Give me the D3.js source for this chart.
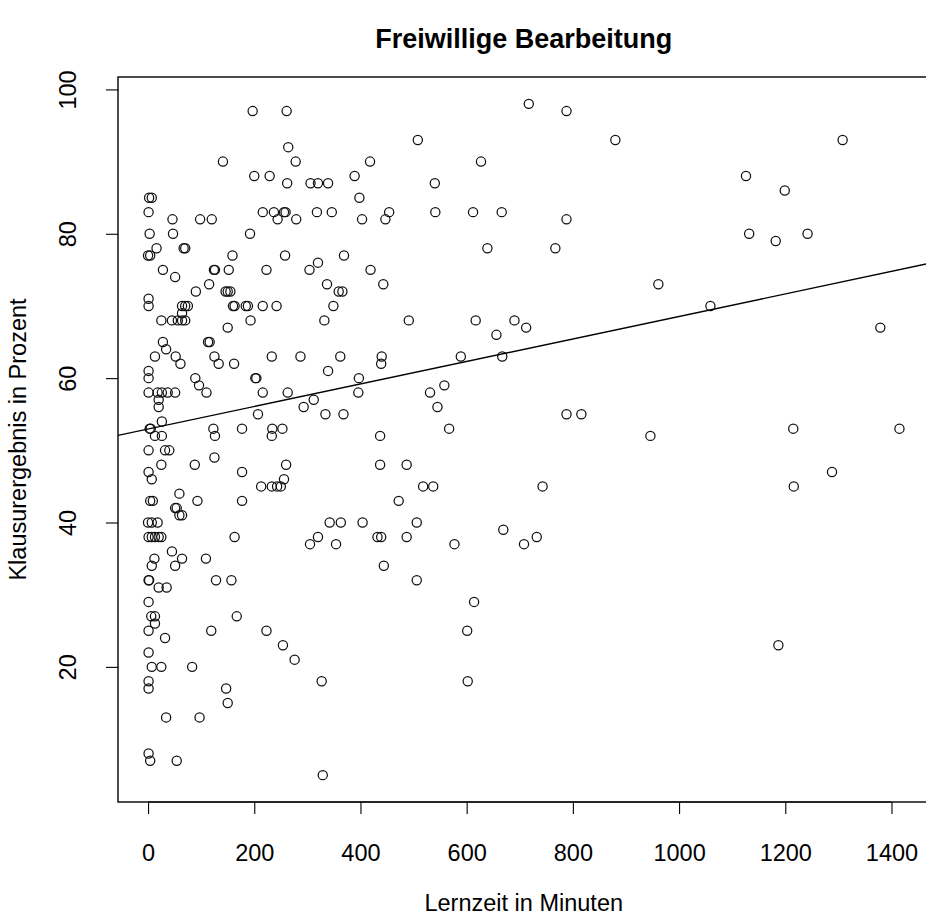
<!DOCTYPE html>
<html>
<head>
<meta charset="utf-8">
<script src="https://cdn.jsdelivr.net/npm/d3@7/dist/d3.min.js"></script>
<style>
body { margin: 0; background: #fff; }
svg text { font-family: "Liberation Sans", Arial, Helvetica, sans-serif; fill: #000; }
</style>
</head>
<body>
<svg id="chart"></svg>
<script>
// Lernzeit (Minuten) und Klausurergebnis (Prozent), paarweise
const minutes = [
  141, 2, 7, 1, 46, 98, 120, 3, 47, 16, 67, 70, 0, 4, 159,
  28, 51, 124, 126, 152, 115, 90, 146, 150, 155, 1, 1, 64, 70, 75, 160, 163, 64,
  25, 45, 56, 64, 70, 150, 28, 113, 116, 34, 13, 52, 61, 125, 133, 162, 1, 1,
  89, 96, 110, 1, 18, 26, 37, 51, 20, 20, 26, 3, 5, 13, 26, 123, 126,
  1, 32, 40, 25, 88, 125, 1, 7, 59, 4, 9, 93, 51, 54, 59, 64, 0, 7, 18,
  1, 7, 13, 20, 25, 163, 45, 64, 12, 7, 51, 109, 1, 2, 20, 35, 128, 157,
  1, 6, 13, 167, 13,
  1, 32, 119, 1, 7, 25, 83, 1, 1, 147, 150, 34, 97, 1, 4, 54,
  197, 261, 264, 278, 418, 508, 200, 229, 262, 306, 320, 339, 389, 540, 398,
  216, 237, 256, 259, 244, 279, 318, 346, 403, 454, 447, 541, 192, 258, 369,
  223, 304, 320, 419, 337, 359, 366, 443, 184, 188, 216, 242, 349, 193, 332, 491,
  233, 287, 362, 440, 439, 339, 202, 204, 397, 216, 263, 396, 312, 293, 531,
  558, 545, 207, 334, 368, 177, 234, 253, 233, 437, 567, 260, 437, 487, 177,
  256, 213, 233, 243, 250, 518, 537, 177, 472, 342, 363, 404, 506, 320, 305,
  354, 432, 439, 487, 577,
  444, 506, 223, 254, 276, 327, 329,
  717, 788, 880, 627, 612, 666, 788, 639, 767, 961, 617, 690, 712, 656, 589,
  667, 788, 816, 946,
  743, 669, 708, 732, 614, 601, 602,
  1308, 1126, 1199, 1132, 1182, 1242, 1059, 1379, 1215, 1415, 1288, 1216, 1187
];
const scores = [
  90, 85, 85, 83, 82, 82, 82, 80, 80, 78, 78, 78, 77, 77, 77,
  75, 74, 75, 75, 75, 73, 72, 72, 72, 72, 71, 70, 70, 70, 70, 70, 70, 69,
  68, 68, 68, 68, 68, 67, 65, 65, 65, 64, 63, 63, 62, 63, 62, 62, 61, 60,
  60, 59, 58, 58, 58, 58, 58, 58, 57, 56, 54, 53, 53, 52, 52, 53, 52,
  50, 50, 50, 48, 48, 49, 47, 46, 44, 43, 43, 43, 42, 42, 41, 41, 40, 40, 40,
  38, 38, 38, 38, 38, 38, 36, 35, 35, 34, 34, 35, 32, 32, 31, 31, 32, 32,
  29, 27, 27, 27, 26,
  25, 24, 25, 22, 20, 20, 20, 18, 17, 17, 15, 13, 13, 8, 7, 7,
  97, 97, 92, 90, 90, 93, 88, 88, 87, 87, 87, 87, 88, 87, 85,
  83, 83, 83, 83, 82, 82, 83, 83, 82, 83, 82, 83, 80, 77, 77,
  75, 75, 76, 75, 73, 72, 72, 73, 70, 70, 70, 70, 70, 68, 68, 68,
  63, 63, 63, 63, 62, 61, 60, 60, 60, 58, 58, 58, 57, 56, 58,
  59, 56, 55, 55, 55, 53, 53, 53, 52, 52, 53, 48, 48, 48, 47,
  46, 45, 45, 45, 45, 45, 45, 43, 43, 40, 40, 40, 40, 38, 37,
  37, 38, 38, 38, 37,
  34, 32, 25, 23, 21, 18, 5,
  98, 97, 93, 90, 83, 83, 82, 78, 78, 73, 68, 68, 67, 66, 63,
  63, 55, 55, 52,
  45, 39, 37, 38, 29, 25, 18,
  93, 88, 86, 80, 79, 80, 70, 67, 53, 53, 47, 45, 23
];
const xTicks = [0, 200, 400, 600, 800, 1000, 1200, 1400];
const yTicks = [20, 40, 60, 80, 100];
// abline(lm(...)): Achsenabschnitt und Steigung
const lmCoef = [52.95, 0.0156];

const width = 926, height = 917;
const plot = { left: 118, right: 929.5, top: 77, bottom: 802 };

const svg = d3.select("#chart")
  .attr("width", width)
  .attr("height", height);

svg.append("rect").attr("width", width).attr("height", height).attr("fill", "#fff");

// R-Stil: Wertebereich um 4% erweitern
function pad(ext) {
  const d = (ext[1] - ext[0]) * 0.04;
  return [ext[0] - d, ext[1] + d];
}

const xScale = d3.scaleLinear()
  .domain(pad(d3.extent(minutes)))
  .range([plot.left, plot.right]);

const yScale = d3.scaleLinear()
  .domain(pad(d3.extent(scores)))
  .range([plot.bottom, plot.top]);

svg.append("defs").append("clipPath")
  .attr("id", "plot-clip")
  .append("rect")
  .attr("x", plot.left)
  .attr("y", plot.top)
  .attr("width", plot.right - plot.left)
  .attr("height", plot.bottom - plot.top);

// Punkte
const data = minutes.map((m, i) => ({ m: m, s: scores[i] }));

svg.append("g")
  .attr("class", "points")
  .selectAll("circle")
  .data(data)
  .enter().append("circle")
  .attr("cx", d => xScale(d.m))
  .attr("cy", d => yScale(d.s))
  .attr("r", 4.6)
  .attr("fill", "none")
  .attr("stroke", "#111")
  .attr("stroke-width", 1.25);

// Regressionsgerade
const xDom = xScale.domain();
svg.append("line")
  .attr("clip-path", "url(#plot-clip)")
  .attr("x1", xScale(xDom[0]))
  .attr("y1", yScale(lmCoef[0] + lmCoef[1] * xDom[0]))
  .attr("x2", xScale(xDom[1]))
  .attr("y2", yScale(lmCoef[0] + lmCoef[1] * xDom[1]))
  .attr("stroke", "#000")
  .attr("stroke-width", 1.4);

// Rahmen
svg.append("rect")
  .attr("x", plot.left)
  .attr("y", plot.top)
  .attr("width", plot.right - plot.left)
  .attr("height", plot.bottom - plot.top)
  .attr("fill", "none")
  .attr("stroke", "#000")
  .attr("stroke-width", 1.4);

// x-Achse
const xAxis = svg.append("g")
  .attr("class", "axis x-axis")
  .attr("transform", `translate(0,${plot.bottom})`)
  .call(d3.axisBottom(xScale).tickValues(xTicks).tickFormat(d3.format("d")).tickSize(12).tickSizeOuter(0));
xAxis.select(".domain").remove();
xAxis.selectAll(".tick line").attr("stroke", "#000").attr("stroke-width", 1.1);
xAxis.selectAll(".tick text")
  .attr("y", 59)
  .attr("dy", null)
  .style("font-size", "23.5px");
xAxis.append("line")
  .attr("x1", xScale(xTicks[0])).attr("x2", xScale(xTicks[xTicks.length - 1]))
  .attr("stroke", "#000").attr("stroke-width", 1.1);

// y-Achse
const yAxis = svg.append("g")
  .attr("class", "axis y-axis")
  .attr("transform", `translate(${plot.left},0)`)
  .call(d3.axisLeft(yScale).tickValues(yTicks).tickFormat(d3.format("d")).tickSize(12).tickSizeOuter(0));
yAxis.select(".domain").remove();
yAxis.selectAll(".tick line").attr("stroke", "#000").attr("stroke-width", 1.1);
yAxis.selectAll(".tick text")
  .attr("x", null)
  .attr("dy", null)
  .attr("transform", "translate(-42,0) rotate(-90)")
  .attr("text-anchor", "middle")
  .style("font-size", "23.5px");

// Titel und Achsenbeschriftungen
svg.append("text")
  .attr("x", (plot.left + plot.right) / 2)
  .attr("y", 48)
  .attr("text-anchor", "middle")
  .style("font-size", "27px")
  .style("font-weight", "bold")
  .text("Freiwillige Bearbeitung");

svg.append("text")
  .attr("x", (plot.left + plot.right) / 2)
  .attr("y", 911)
  .attr("text-anchor", "middle")
  .style("font-size", "23.5px")
  .text("Lernzeit in Minuten");

svg.append("text")
  .attr("transform", `translate(26,${(plot.top + plot.bottom) / 2}) rotate(-90)`)
  .attr("text-anchor", "middle")
  .style("font-size", "23.5px")
  .text("Klausurergebnis in Prozent");
</script>
</body>
</html>
